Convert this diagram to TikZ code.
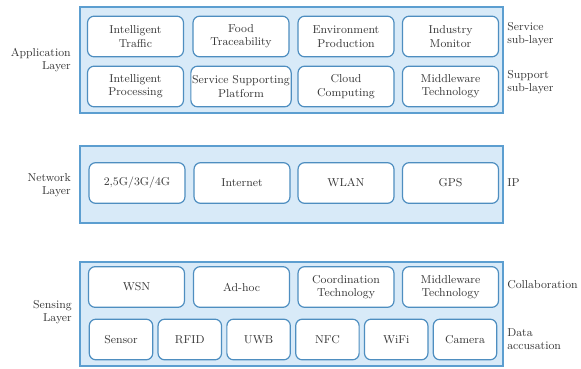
\documentclass[tikz,border=0pt]{standalone}
\usepackage{xcolor}
\usepackage{tikz}
\usetikzlibrary{positioning}
\definecolor{lFill}{RGB}{216,234,248}
\definecolor{lLine}{RGB}{92,158,208}
\definecolor{cLine}{RGB}{78,142,192}
\definecolor{tGray}{RGB}{55,55,55}
\tikzset{
  layer/.style={rectangle, draw=lLine, fill=lFill, line width=1.1pt,
                minimum width=317pt, inner sep=0pt},
  cell/.style={rectangle, rounded corners=5pt, draw=cLine, fill=white,
               line width=0.9pt, minimum width=72pt, minimum height=30.5pt,
               align=center, inner sep=1pt, text=tGray,
               font=\fontsize{8.6}{10}\selectfont},
  small/.style={cell, minimum width=47.6pt},
  side/.style={align=right, anchor=east, text=tGray, inner sep=0pt,
               font=\fontsize{8.6}{10}\selectfont},
  sub/.style={align=left, anchor=west, text=tGray, inner sep=0pt,
              font=\fontsize{8.6}{10}\selectfont},
}

\begin{document}
\begin{tikzpicture}[x=0.75pt, y=-0.75pt]
  \useasboundingbox (0,0) rectangle (581,368);

  % layer frames
  \node[layer, minimum height=79.5pt] (app) at (291.5,60){};
  \node[layer, minimum height=57.75pt] (net) at (291.5,184.5){};
  \node[layer, minimum height=78pt] (sen) at (291.5,314){};

  % application layer -- service row and support row
  \node[cell] (a1) at (135.5,36.5){Intelligent\\ Traffic};
  \node[cell] (a2) at (241,36.5){Food\\ Traceability};
  \node[cell] (a3) at (346,36.5){Environment\\ Production};
  \node[cell] (a4) at (450.5,36.5){Industry\\ Monitor};
  \node[cell] (a5) at (135.5,86.5){Intelligent\\ Processing};
  \node[cell] (a6) at (241,86.5){Service Supporting\\ Platform};
  \node[cell] (a7) at (346,86.5){Cloud\\ Computing};
  \node[cell] (a8) at (450.5,86.5){Middleware\\ Technology};

  % network layer
  \node[cell] (n1) at (137,183){2,5G/3G/4G};
  \node[cell] (n2) at (242,183){Internet};
  \node[cell] (n3) at (346,183){WLAN};
  \node[cell] (n4) at (450.5,183){GPS};

  % sensing layer -- collaboration row and data row
  \node[cell] (s1) at (136.5,287){WSN};
  \node[cell] (s2) at (241.5,287){Ad-hoc};
  \node[cell] (s3) at (346,287){Coordination\\ Technology};
  \node[cell] (s4) at (450.5,287){Middleware\\ Technology};
  \node[small] (d1) at (121,339.5){Sensor};
  \node[small] (d2) at (189.8,339.5){RFID};
  \node[small] (d3) at (258.6,339.5){UWB};
  \node[small] (d4) at (327.4,339.5){NFC};
  \node[small] (d5) at (396.2,339.5){WiFi};
  \node[small] (d6) at (465,339.5){Camera};

  % layer names on the left
  \node[side] (lapp) at (71,60){Application\\ Layer};
  \node[side] (lnet) at (71,185){Network\\ Layer};
  \node[side] (lsen) at (72,312){Sensing\\ Layer};

  % sub-layer names on the right
  \node[sub] (r1) at (507,34){Service\\ sub-layer};
  \node[sub] (r2) at (507,82){Support\\ sub-layer};
  \node[sub] (r3) at (507,183){IP};
  \node[sub] (r4) at (507,285){Collaboration};
  \node[sub] (r5) at (507,339){Data\\ accusation};
\end{tikzpicture}
\end{document}
